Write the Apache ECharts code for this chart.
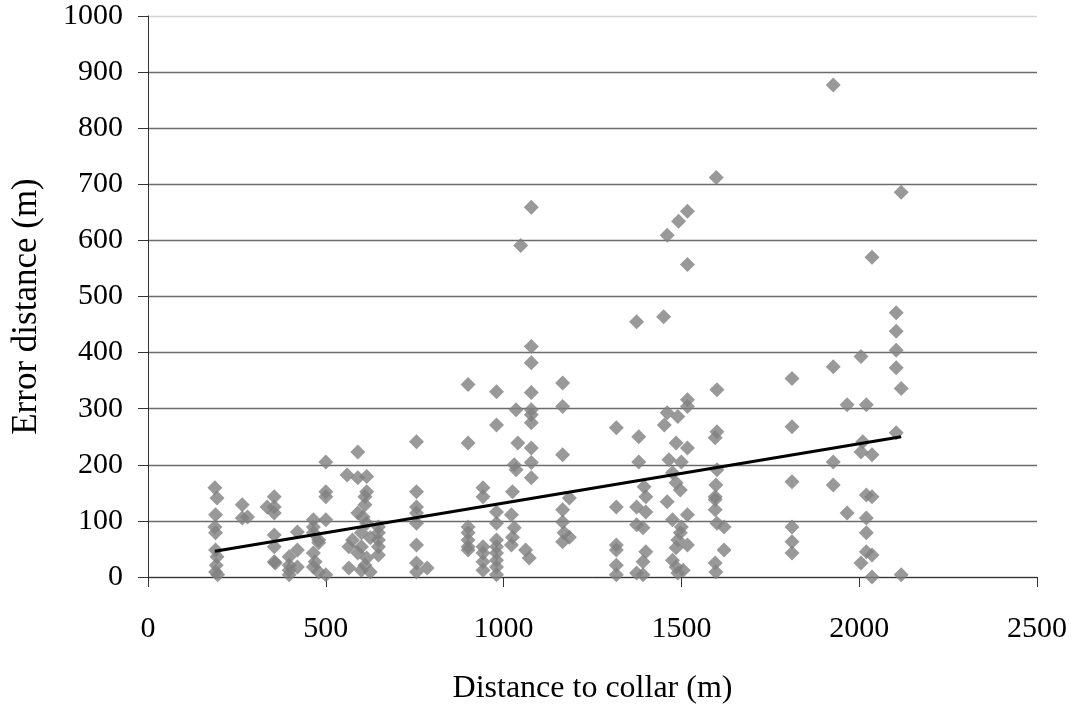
<!DOCTYPE html>
<html>
<head>
<meta charset="utf-8">
<script src="https://cdn.jsdelivr.net/npm/echarts@6/dist/echarts.min.js"></script>
<style>html,body{margin:0;padding:0;background:#fff}#c{width:1076px;height:706px}</style>
</head>
<body>
<div id="c"></div>
<script>
// Distance to collar (m)
const collarDistance = [
188,194,190,188,190,190,194,192,190,196,
265,265,280,
335,355,355,355,355,355,355,358,
420,420,397,397,397,397,420,
500,500,500,500,465,465,465,480,480,465,470,465,500,480,
590,560,590,615,615,610,610,590,605,615,600,625,575,565,600,590,615,565,600,625,610,
648,648,648,648,648,
755,755,755,755,755,755,755,755,785,
900,900,900,900,900,900,900,
942,942,942,942,942,942,
980,980,980,980,980,980,980,980,980,980,
1035,1040,1030,1035,1025,1022,1030,1025,1022,
1078,1078,1078,1078,1078,1078,1078,1062,1072,1078,1048,1078,1078,
1166,1166,1166,1166,1166,1170,1185,1166,1185,
1317,1317,1317,1317,1317,1317,
1380,1380,1395,1400,1374,1400,1374,1392,1400,1392,1374,1392,1374,
1517,1517,1460,1490,1452,1485,1517,1465,1500,1475,1485,1497,1460,1517,1475,1500,1497,1490,1517,1485,1475,1485,1505,1490,1450,1460,1492,1517,1517,
1600,1600,1595,1600,1597,1595,1595,1595,1600,1620,1620,1595,1597,1598,
1811,1811,1811,1811,1811,1811,
1927,1927,1927,1927,
1966,2020,2005,2010,2036,2020,2036,1966,2020,2020,2020,2036,2005,2036,2005,2036,
2118,2104,2118,2118,2104,2104,2104,2104
];
// Error distance (m)
const errorDistance = [
159,141,111,89,79,48,36,21,9,4,
129,105,107,
125,143,125,114,75,54,27,25,
80,48,36,21,12,4,18,
205,152,143,102,102,89,79,66,61,43,27,18,4,9,
223,182,177,179,152,143,129,114,107,96,79,70,66,54,54,43,34,16,12,9,21,
89,79,66,54,39,
241,152,125,114,96,57,25,9,16,
343,239,89,79,66,54,48,
159,143,54,43,27,12,
330,271,116,96,66,54,43,30,18,4,
298,239,200,191,152,111,88,71,57,
329,298,289,275,230,204,177,48,34,659,591,411,382,
346,304,218,120,98,79,71,63,141,
266,125,57,48,21,4,
250,205,161,143,125,116,93,88,45,27,7,4,455,
316,304,293,286,271,239,230,209,205,186,168,155,134,111,102,89,79,66,57,52,30,18,12,7,464,609,634,652,557,
334,259,248,191,164,143,138,120,96,89,48,25,9,712,
354,268,170,89,63,43,
205,164,375,877,
307,307,223,241,218,146,143,114,105,79,45,39,25,0,393,570,
336,257,4,686,471,438,404,373
];
// Trend line end points
const trendX = [188, 2118];
const trendY = [46, 250];

const xTicks = {min: 0, max: 2500, interval: 500};
const yTicks = {min: 0, max: 1000, interval: 100};

const points = collarDistance.map((x, i) => [x, errorDistance[i]]);
const trend = trendX.map((x, i) => [x, trendY[i]]);

const font = 'Liberation Serif, Times New Roman, serif';
const gridColors = [];
for (let v = yTicks.min; v <= yTicks.max; v += yTicks.interval) gridColors.push(v === yTicks.max ? '#d4d4d4' : '#6b6b6b');

const chart = echarts.init(document.getElementById('c'), null, {renderer: 'canvas'});
chart.setOption({
  animation: false,
  backgroundColor: '#fff',
  grid: {left: 148, right: 39, top: 16, bottom: 129, containLabel: false, outerBoundsMode: 'none'},
  xAxis: {
    type: 'value', min: xTicks.min, max: xTicks.max, interval: xTicks.interval,
    name: 'Distance to collar (m)', nameLocation: 'middle', nameGap: 96,
    nameTextStyle: {fontFamily: font, fontSize: 32, color: '#000'},
    axisLine: {show: true, onZero: false, lineStyle: {color: '#333', width: 1}},
    axisTick: {show: true, inside: false, length: 10, lineStyle: {color: '#333'}},
    axisLabel: {fontFamily: font, fontSize: 30, color: '#000', margin: 37, formatter: v => String(v)},
    splitLine: {show: false}
  },
  yAxis: {
    type: 'value', min: yTicks.min, max: yTicks.max, interval: yTicks.interval,
    name: 'Error distance (m)', nameLocation: 'middle', nameGap: 104, nameRotate: 90,
    nameTextStyle: {fontFamily: font, fontSize: 35, color: '#000', padding: [0, 20, 0, 0]},
    axisLine: {show: true, lineStyle: {color: '#333', width: 1}},
    axisTick: {show: true, inside: false, length: 10, lineStyle: {color: '#333'}},
    axisLabel: {fontFamily: font, fontSize: 30, color: '#000', margin: 25, formatter: v => String(v)},
    splitLine: {show: true, lineStyle: {color: gridColors, width: 1.3}}
  },
  series: [
    {
      type: 'scatter', data: points, symbol: 'diamond', symbolSize: 15,
      itemStyle: {color: '#808080'}, z: 2
    },
    {
      type: 'line', data: trend, showSymbol: false, symbol: 'none',
      lineStyle: {color: '#000', width: 3}, z: 3
    }
  ]
});
</script>
</body>
</html>
